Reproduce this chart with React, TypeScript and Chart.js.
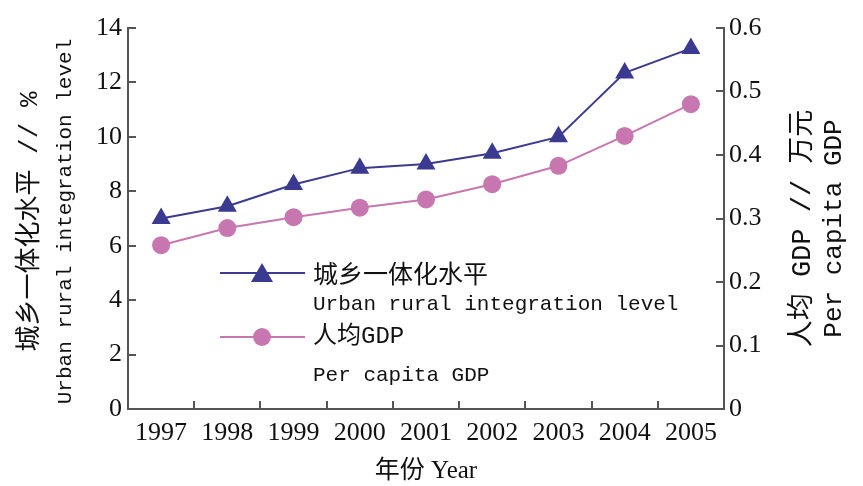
import React, { useEffect, useRef } from "react";
import { Chart, registerables } from "chart.js";

Chart.register(...registerables);

const years = ["1997", "1998", "1999", "2000", "2001", "2002", "2003", "2004", "2005"];
const integrationLevel = [7.0, 7.45, 8.25, 8.85, 9.0, 9.4, 10.0, 12.35, 13.25];
const perCapitaGDP = [0.258, 0.285, 0.302, 0.317, 0.33, 0.354, 0.383, 0.43, 0.48];
const leftTicks = [0, 2, 4, 6, 8, 10, 12, 14];
const rightTicks = [0, 0.1, 0.2, 0.3, 0.4, 0.5, 0.6];
const rightTickLabels = ["0", "0.1", "0.2", "0.3", "0.4", "0.5", "0.6"];

const seriesNamesZh = ["城乡一体化水平", "人均GDP"];
const seriesNamesEn = ["Urban rural integration level", "Per capita GDP"];
const leftTitle = ["城乡一体化水平 // %", "Urban rural integration level"];
const rightTitle = ["人均 GDP // 万元", "Per capita GDP"];
const bottomTitle = "年份 Year";

const BLUE = "#3a3a90";
const PINK = "#c876b0";
const AXIS = "#555555";
const TEXT = "#111111";
const MONO = "'Liberation Mono', 'Noto Sans CJK SC', monospace";
const CJK = "'Noto Sans CJK SC', 'Liberation Mono', sans-serif";
const SERIF = "'Liberation Serif', 'Noto Sans CJK SC', serif";

function vText(ctx: CanvasRenderingContext2D, text: string, x: number, y: number, font: string) {
  ctx.save();
  ctx.translate(x, y);
  ctx.rotate(-Math.PI / 2);
  ctx.font = font;
  ctx.textAlign = "center";
  ctx.textBaseline = "middle";
  ctx.fillText(text, 0, 0);
  ctx.restore();
}

const decorPlugin = {
  id: "decor",
  afterDraw(chart: any) {
    const ctx = chart.ctx as CanvasRenderingContext2D;
    const area = chart.chartArea;
    const x = chart.scales.x;
    const yL = chart.scales.y;
    const yR = chart.scales.y1;
    const tl = 8;
    ctx.save();
    ctx.strokeStyle = AXIS;
    ctx.lineWidth = 2;
    ctx.beginPath();
    leftTicks.forEach((v) => {
      const py = Math.round(yL.getPixelForValue(v));
      ctx.moveTo(area.left, py);
      ctx.lineTo(area.left + tl, py);
    });
    rightTicks.forEach((v) => {
      const py = Math.round(yR.getPixelForValue(v));
      ctx.moveTo(area.right, py);
      ctx.lineTo(area.right - tl, py);
    });
    for (let i = 1; i < years.length; i++) {
      const px = Math.round((x.getPixelForValue(i - 1) + x.getPixelForValue(i)) / 2);
      ctx.moveTo(px, area.bottom);
      ctx.lineTo(px, area.bottom - tl);
    }
    ctx.stroke();

    // axis titles (both read bottom to top)
    ctx.fillStyle = TEXT;
    const cyL = (area.top + area.bottom) / 2 + 3;
    vText(ctx, leftTitle[0], 30, cyL, `26px ${MONO}`);
    vText(ctx, leftTitle[1], 65, cyL, `21px ${MONO}`);
    const cyR = (area.top + area.bottom) / 2 + 10;
    vText(ctx, rightTitle[0], 803, cyR, `27px ${MONO}`);
    vText(ctx, rightTitle[1], 834, cyR, `26px ${MONO}`);

    // legend
    const rows = [
      { y: 273, color: BLUE, style: "triangle" },
      { y: 337, color: PINK, style: "circle" },
    ];
    rows.forEach((r, i) => {
      ctx.strokeStyle = r.color;
      ctx.lineWidth = 2;
      ctx.beginPath();
      ctx.moveTo(220, r.y);
      ctx.lineTo(305, r.y);
      ctx.stroke();
      ctx.fillStyle = r.color;
      ctx.beginPath();
      if (r.style === "triangle") {
        ctx.moveTo(262, r.y - 10);
        ctx.lineTo(273, r.y + 9);
        ctx.lineTo(251, r.y + 9);
        ctx.closePath();
      } else {
        ctx.arc(262, r.y, 9, 0, Math.PI * 2);
      }
      ctx.fill();
      ctx.fillStyle = TEXT;
      ctx.textAlign = "left";
      ctx.textBaseline = "middle";
      ctx.font = `25px ${CJK}`;
      if (i === 1) ctx.font = `24px ${MONO}`;
      ctx.fillText(seriesNamesZh[i], 313, r.y);
      ctx.font = `21px ${MONO}`;
      ctx.fillText(seriesNamesEn[i], 313, r.y + (i === 0 ? 31 : 38));
    });
    ctx.restore();
  },
};

export default function App() {
  const ref = useRef<HTMLCanvasElement | null>(null);
  useEffect(() => {
    if (!ref.current) return;
    const chart = new Chart(ref.current, {
      type: "line",
      data: {
        labels: years,
        datasets: [
          {
            label: seriesNamesZh[0],
            data: integrationLevel,
            yAxisID: "y",
            borderColor: BLUE,
            backgroundColor: BLUE,
            borderWidth: 2,
            pointStyle: "triangle",
            pointRadius: 11,
            pointBorderWidth: 0,
            tension: 0,
          },
          {
            label: seriesNamesZh[1],
            data: perCapitaGDP,
            yAxisID: "y1",
            borderColor: PINK,
            backgroundColor: PINK,
            borderWidth: 2,
            pointStyle: "circle",
            pointRadius: 9,
            pointBorderWidth: 0,
            tension: 0,
          },
        ],
      },
      options: {
        animation: false,
        responsive: false,
        devicePixelRatio: 1,
        layout: { padding: { top: 28, left: 0, right: 0, bottom: 0 } },
        plugins: { legend: { display: false }, tooltip: { enabled: false } },
        scales: {
          x: {
            type: "category",
            offset: true,
            grid: { display: false, drawTicks: false },
            border: { display: true, color: AXIS, width: 2 },
            ticks: { color: TEXT, font: { family: SERIF, size: 26 }, padding: 9, maxRotation: 0, autoSkip: false },
            title: {
              display: true,
              text: bottomTitle,
              color: TEXT,
              font: { family: SERIF, size: 25 },
              padding: { top: 0, bottom: 0 },
            },
            afterFit: (s: any) => {
              s.height = 77;
            },
          },
          y: {
            type: "linear",
            position: "left",
            min: 0,
            max: 14,
            grid: { display: false, drawTicks: false },
            border: { display: true, color: AXIS, width: 2 },
            ticks: { stepSize: 2, color: TEXT, font: { family: SERIF, size: 26 }, padding: 6 },
            afterBuildTicks: (s: any) => {
              s.ticks = leftTicks.map((v) => ({ value: v }));
            },
            afterFit: (s: any) => {
              s.width = 128;
            },
          },
          y1: {
            type: "linear",
            position: "right",
            min: 0,
            max: 0.6,
            grid: { display: false, drawTicks: false },
            border: { display: true, color: AXIS, width: 2 },
            ticks: {
              color: TEXT,
              font: { family: SERIF, size: 26 },
              padding: 5,
              callback: (_v: any, i: number) => rightTickLabels[i],
            },
            afterBuildTicks: (s: any) => {
              s.ticks = rightTicks.map((v) => ({ value: v }));
            },
            afterFit: (s: any) => {
              s.width = 139;
            },
          },
        },
      } as any,
      plugins: [decorPlugin],
    });
    return () => chart.destroy();
  }, []);
  return (
    <div style={{ position: "absolute", left: 0, top: 0, width: 863, height: 486, background: "#fff" }}>
      <canvas ref={ref} width={863} height={486} style={{ display: "block" }} />
    </div>
  );
}
